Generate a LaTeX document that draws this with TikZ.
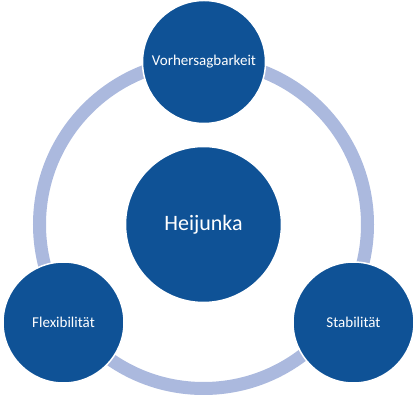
\documentclass[tikz,border=0pt]{standalone}
\usepackage{fontspec}
\setmainfont{Carlito}
\definecolor{ringc}{HTML}{ABB9DE}
\definecolor{discc}{HTML}{0F5296}
\begin{document}
\begin{tikzpicture}[x=1pt,y=1pt,
  disc/.style={circle,fill=discc,draw=white,line width=1.5pt,inner sep=0pt,text=white,font=\fontsize{15}{18}\selectfont},
  ring/.style={draw=ringc,line width=13pt}]
\useasboundingbox (0,0) rectangle (418,401);
\coordinate (rc) at (203.5,176.5);
\draw[ring] (rc) circle (164);
\node[disc,minimum size=156pt,font=\fontsize{22}{26}\selectfont] (hj) at (203.5,176.5) {Heijunka};
\node[disc,minimum size=123pt] (vb) at (204,339) {Vorhersagbarkeit};
\node[disc,minimum size=121pt] (fx) at (63.5,78.5) {Flexibilität};
\node[disc,minimum size=121pt] (st) at (353.5,78.5) {Stabilität};
\end{tikzpicture}
\end{document}
